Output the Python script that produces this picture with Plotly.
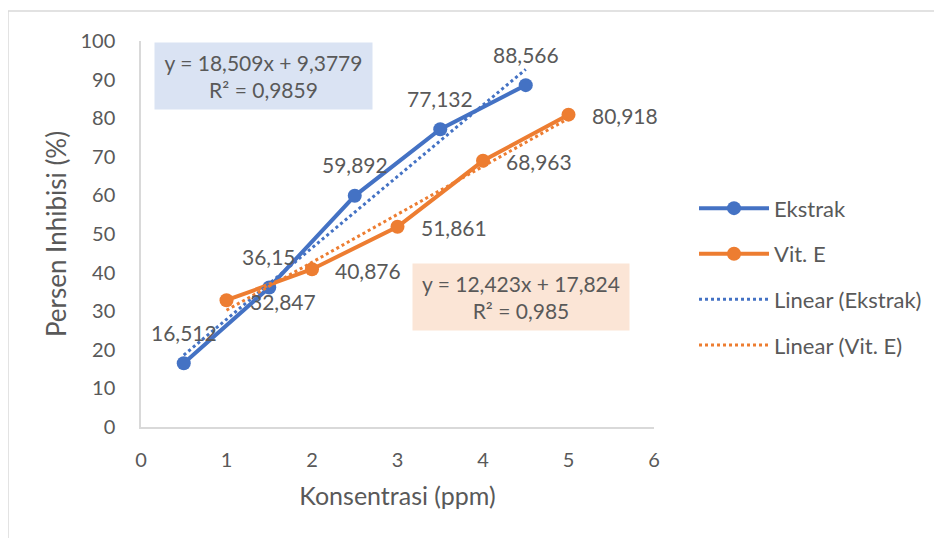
import numpy as np
import plotly.graph_objects as go

# ---- data ----
ekstrak_x = [0.5, 1.5, 2.5, 3.5, 4.5]
ekstrak_y = [16.512, 36.15, 59.892, 77.132, 88.566]
vite_x = [1, 2, 3, 4, 5]
vite_y = [32.847, 40.876, 51.861, 68.963, 80.918]
eq_ekstrak = "y = 18,509x + 9,3779<br>R² = 0,9859"
eq_vite = "y = 12,423x + 17,824<br>R² = 0,985"
x_ticks = [0, 1, 2, 3, 4, 5, 6]
y_ticks = [0, 10, 20, 30, 40, 50, 60, 70, 80, 90, 100]

BLUE = "#4472C4"
ORANGE = "#ED7D31"
GREY = "#595959"
FONT = "Lato"

def fmt(v):
    return str(v).replace(".", ",")

def trend(xs, ys):
    m, c = np.polyfit(xs, ys, 1)
    xx = [min(xs), max(xs)]
    return xx, [m * v + c for v in xx]

fig = go.Figure()
fig.add_trace(go.Scatter(
    x=ekstrak_x, y=ekstrak_y, name="Ekstrak", mode="lines+markers",
    line=dict(color=BLUE, width=4), marker=dict(size=14, color=BLUE), legendgroup="a"))
fig.add_trace(go.Scatter(
    x=vite_x, y=vite_y, name="Vit. E", mode="lines+markers",
    line=dict(color=ORANGE, width=4), marker=dict(size=14, color=ORANGE), legendgroup="b"))
tx, ty = trend(ekstrak_x, ekstrak_y)
fig.add_trace(go.Scatter(x=tx, y=ty, name="Linear (Ekstrak)", mode="lines",
                         line=dict(color=BLUE, width=3, dash="dot"), legendgroup="c"))
tx, ty = trend(vite_x, vite_y)
fig.add_trace(go.Scatter(x=tx, y=ty, name="Linear (Vit. E)", mode="lines",
                         line=dict(color=ORANGE, width=3, dash="dot"), legendgroup="d"))

# data labels
for xv, yv in zip(ekstrak_x, ekstrak_y):
    fig.add_annotation(x=xv, y=yv, xref="x", yref="y", text=fmt(yv), showarrow=False,
                       yshift=31, font=dict(size=21, color=GREY, family=FONT))
for xv, yv in zip(vite_x, vite_y):
    fig.add_annotation(x=xv, y=yv, xref="x", yref="y", text=fmt(yv), showarrow=False,
                       xanchor="left", xshift=21, yshift=-1,
                       font=dict(size=21, color=GREY, family=FONT))

fig.add_annotation(x=1.433, y=90.9, xref="x", yref="y", text=eq_ekstrak,
                   showarrow=False, bgcolor="#DAE3F3", width=217, height=66,
                   font=dict(size=21, color=GREY, family=FONT), borderpad=0)
fig.add_annotation(x=4.444, y=33.7, xref="x", yref="y", text=eq_vite,
                   showarrow=False, bgcolor="#FBE5D6", width=216, height=66,
                   font=dict(size=21, color=GREY, family=FONT), borderpad=0)

# chart border
fig.add_shape(type="rect", xref="paper", yref="paper", x0=-0.2593, x1=1.7,
              y0=-0.4, y1=1.0777, fillcolor="rgba(0,0,0,0)",
              line=dict(color="#D9D9D9", width=1.5), layer="below")

fig.update_layout(
    width=942, height=538,
    margin=dict(l=133, r=296, t=33, b=119),
    paper_bgcolor="white", plot_bgcolor="white",
    font=dict(family=FONT, size=18, color=GREY),
    xaxis=dict(range=[0, 6], tickvals=x_ticks, showgrid=False, zeroline=False,
               showline=True, linecolor="#D9D9D9", linewidth=1.5,
               ticks="outside", ticklen=14, tickcolor="rgba(0,0,0,0)",
               tickfont=dict(size=20, color=GREY),
               title=dict(text="Konsentrasi (ppm)", font=dict(size=25, color=GREY), standoff=18)),
    yaxis=dict(range=[0, 100], tickvals=y_ticks, showgrid=False, zeroline=False,
               showline=True, linecolor="#D9D9D9", linewidth=1.5,
               ticks="outside", ticklen=20, tickcolor="rgba(0,0,0,0)",
               tickfont=dict(size=20, color=GREY),
               title=dict(text="Persen Inhibisi (%)", font=dict(size=26, color=GREY), standoff=6)),
    legend=dict(x=1.078, xref="paper", y=0.389, xanchor="left", yanchor="middle",
                font=dict(size=22, color=GREY), itemwidth=70,
                traceorder="grouped", tracegroupgap=14, bgcolor="rgba(0,0,0,0)"),
    showlegend=True,
)

fig.write_html("out.html")
